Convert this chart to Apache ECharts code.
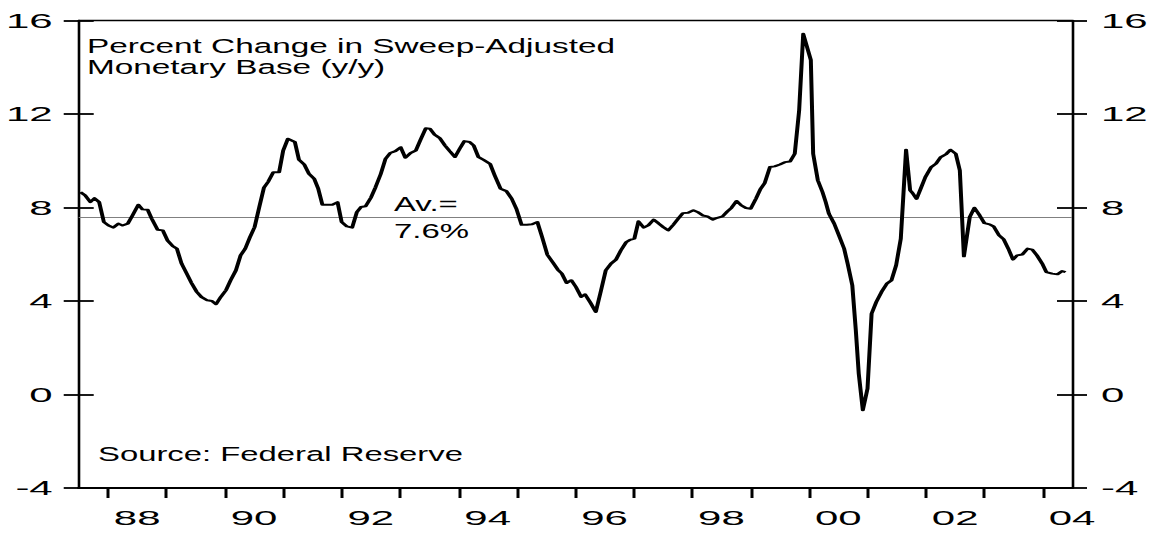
<!DOCTYPE html>
<html>
<head>
<meta charset="utf-8">
<script src="https://cdn.jsdelivr.net/npm/echarts@6/dist/echarts.min.js"></script>
<style>
  html, body { margin: 0; padding: 0; background: #fff; overflow: hidden; }
  #c { width: 577px; height: 534px; transform: scaleX(2); transform-origin: 0 0; }
</style>
</head>
<body>
<div id="c"></div>
<script>
const years = [
  1987.53,1987.61,1987.70,1987.77,1987.85,1987.93,1988.01,1988.09,1988.18,1988.25,1988.34,1988.42,
  1988.52,1988.59,1988.68,1988.75,1988.85,1988.94,1989.02,1989.11,1989.18,1989.26,1989.35,1989.43,
  1989.52,1989.60,1989.70,1989.78,1989.85,1989.93,1990.02,1990.10,1990.19,1990.27,1990.35,1990.43,
  1990.51,1990.59,1990.67,1990.74,1990.83,1990.93,1991.00,1991.08,1991.20,1991.27,1991.36,1991.44,
  1991.53,1991.60,1991.67,1991.76,1991.84,1991.93,1992.00,1992.09,1992.18,1992.26,1992.33,1992.41,
  1992.50,1992.58,1992.67,1992.75,1992.83,1992.92,1993.01,1993.09,1993.18,1993.27,1993.35,1993.44,
  1993.51,1993.59,1993.68,1993.77,1993.85,1993.94,1994.02,1994.10,1994.19,1994.26,1994.34,1994.43,
  1994.54,1994.62,1994.72,1994.82,1994.91,1994.99,1995.08,1995.17,1995.26,1995.35,1995.43,1995.52,
  1995.62,1995.70,1995.77,1995.85,1995.93,1996.01,1996.10,1996.165,1996.26,1996.35,1996.44,1996.52,
  1996.61,1996.695,1996.78,1996.87,1996.935,1997.01,1997.08,1997.17,1997.25,1997.34,1997.42,1997.505,
  1997.59,1997.675,1997.76,1997.84,1997.93,1998.02,1998.09,1998.18,1998.26,1998.35,1998.43,1998.52,
  1998.60,1998.67,1998.76,1998.84,1998.92,1999.00,1999.09,1999.17,1999.24,1999.33,1999.41,1999.50,
  1999.585,1999.675,1999.755,1999.83,1999.90,2000.03,2000.07,2000.15,2000.23,2000.285,2000.34,2000.43,
  2000.51,2000.60,2000.66,2000.74,2000.80,2000.85,2000.92,2001.00,2001.07,2001.15,2001.24,2001.33,
  2001.41,2001.49,2001.57,2001.66,2001.73,2001.77,2001.84,2001.91,2001.99,2002.09,2002.17,2002.25,
  2002.34,2002.42,2002.51,2002.58,2002.65,2002.75,2002.83,2002.92,2003.00,2003.09,2003.16,2003.25,
  2003.33,2003.41,2003.49,2003.56,2003.65,2003.74,2003.82,2003.90,2003.99,2004.06,2004.16,2004.25,
  2004.33,2004.39
];
// Percent change (y/y) of the sweep-adjusted monetary base
const values = [
  8.66,8.52,8.23,8.40,8.23,7.38,7.23,7.14,7.31,7.23,7.31,7.66,
  8.12,7.92,7.90,7.52,7.05,7.02,6.59,6.35,6.24,5.60,5.17,4.77,
  4.39,4.17,4.03,4.00,3.86,4.17,4.46,4.89,5.31,5.95,6.24,6.73,
  7.16,8.02,8.85,9.09,9.51,9.51,10.44,10.94,10.80,10.04,9.84,9.44,
  9.23,8.80,8.12,8.12,8.12,8.23,7.38,7.19,7.14,7.80,8.02,8.05,
  8.42,8.87,9.44,10.08,10.33,10.41,10.58,10.13,10.33,10.44,10.90,11.39,
  11.37,11.12,10.97,10.65,10.41,10.16,10.51,10.84,10.80,10.65,10.16,10.04,
  9.87,9.37,8.80,8.70,8.38,7.95,7.26,7.26,7.28,7.38,6.74,5.98,
  5.63,5.34,5.17,4.77,4.89,4.60,4.17,4.29,3.92,3.53,4.46,5.31,
  5.60,5.77,6.17,6.52,6.62,6.67,7.41,7.14,7.24,7.48,7.33,7.16,
  7.02,7.26,7.52,7.76,7.78,7.88,7.81,7.66,7.62,7.48,7.56,7.62,
  7.83,7.98,8.28,8.09,7.98,7.95,8.37,8.80,9.04,9.73,9.76,9.84,
  9.94,9.97,10.30,12.15,15.43,14.31,10.30,9.16,8.66,8.23,7.73,7.31,
  6.81,6.24,5.60,4.67,2.75,0.90,-0.67,0.25,3.46,3.96,4.39,4.74,
  4.88,5.53,6.67,10.47,8.73,8.62,8.37,8.80,9.30,9.73,9.87,10.15,
  10.27,10.47,10.30,9.59,5.91,7.59,7.99,7.66,7.33,7.28,7.19,6.81,
  6.64,6.24,5.77,5.95,5.99,6.24,6.20,5.95,5.60,5.24,5.17,5.14,
  5.28,5.24
];
const average = 7.6;
const tickYears = [1988,1989,1990,1991,1992,1993,1994,1995,1996,1997,1998,1999,2000,2001,2002,2003,2004];
const labelYears = [1988.5,1990.5,1992.5,1994.5,1996.5,1998.5,2000.5,2002.5,2004.5];
const labelTexts = ['88','90','92','94','96','98','00','02','04'];
const yMin = -4, yMax = 16, yStep = 4;
const titleText = 'Percent Change in Sweep-Adjusted\nMonetary Base (y/y)';
const avgText = 'Av.=\n7.6%';
const sourceText = 'Source: Federal Reserve';

const FONT = '"Liberation Sans", Arial, sans-serif';
const chart = echarts.init(document.getElementById('c'), null, { renderer: 'svg' });

function yAxisDef(pos, inside, labels) {
  return {
    type: 'value', position: pos, min: yMin, max: yMax, interval: yStep,
    axisLine: { show: !inside, lineStyle: { color: '#000', width: 1.3 } },
    axisTick: { show: true, inside: inside, length: 7.5, lineStyle: { color: '#000', width: 1.8 } },
    axisLabel: { show: labels, color: '#000', fontSize: 21, fontFamily: FONT,
                 margin: pos === 'left' ? 13 : 14.5, showMinLabel: true, showMaxLabel: true },
    splitLine: { show: false }
  };
}

chart.setOption({
  animation: false,
  backgroundColor: '#fff',
  textStyle: { fontFamily: FONT },
  grid: { left: 38.75, right: 41, top: 20.5, bottom: 46 },
  xAxis: [
    {
      type: 'value', position: 'bottom', min: 1987.5, max: 2004.5,
      axisLine: { show: true, onZero: false, lineStyle: { color: '#000', width: 1.8 } },
      axisTick: { show: true, customValues: tickYears, length: 10, lineStyle: { color: '#000', width: 1.5 } },
      axisLabel: {
        show: true, customValues: labelYears, color: '#000', fontSize: 21, fontFamily: FONT, margin: 19,
        showMinLabel: true, showMaxLabel: true,
        formatter: function (v) {
          const i = labelYears.findIndex(function (p) { return Math.abs(p - v) < 1e-6; });
          return i >= 0 ? labelTexts[i] : '';
        }
      },
      splitLine: { show: false }
    },
    {
      type: 'value', position: 'top', min: 1987.5, max: 2004.5,
      axisLine: { show: true, onZero: false, lineStyle: { color: '#000', width: 1.3 } },
      axisTick: { show: false }, axisLabel: { show: false }, splitLine: { show: false }
    }
  ],
  yAxis: [
    yAxisDef('left', false, true),
    yAxisDef('left', true, false),
    yAxisDef('right', false, true),
    yAxisDef('right', true, false)
  ],
  series: [{
    type: 'line',
    xAxisIndex: 0, yAxisIndex: 0,
    data: years.map(function (y, i) { return [y, values[i]]; }),
    showSymbol: false, symbol: 'none',
    lineStyle: { color: '#000', width: 2.0, join: 'round' },
    z: 5,
    markLine: {
      silent: true, symbol: 'none', animation: false,
      label: { show: false },
      lineStyle: { color: '#808080', width: 1, type: 'solid' },
      data: [{ yAxis: average }]
    }
  }],
  graphic: [
    { type: 'text', x: 43.5, y: 35.8, scaleX: 0.855, z: 10,
      style: { text: titleText, fill: '#000', font: '19.5px ' + FONT, lineHeight: 21,
               textAlign: 'left', textVerticalAlign: 'top' } },
    { type: 'text', x: 197, y: 191.1, scaleX: 0.845, z: 10,
      style: { text: avgText, fill: '#000', font: '19.5px ' + FONT, lineHeight: 26.4,
               textAlign: 'left', textVerticalAlign: 'top' } },
    { type: 'text', x: 49, y: 443.5, scaleX: 0.842, z: 10,
      style: { text: sourceText, fill: '#000', font: '19.5px ' + FONT, lineHeight: 21,
               textAlign: 'left', textVerticalAlign: 'top' } }
  ]
});
</script>
</body>
</html>
